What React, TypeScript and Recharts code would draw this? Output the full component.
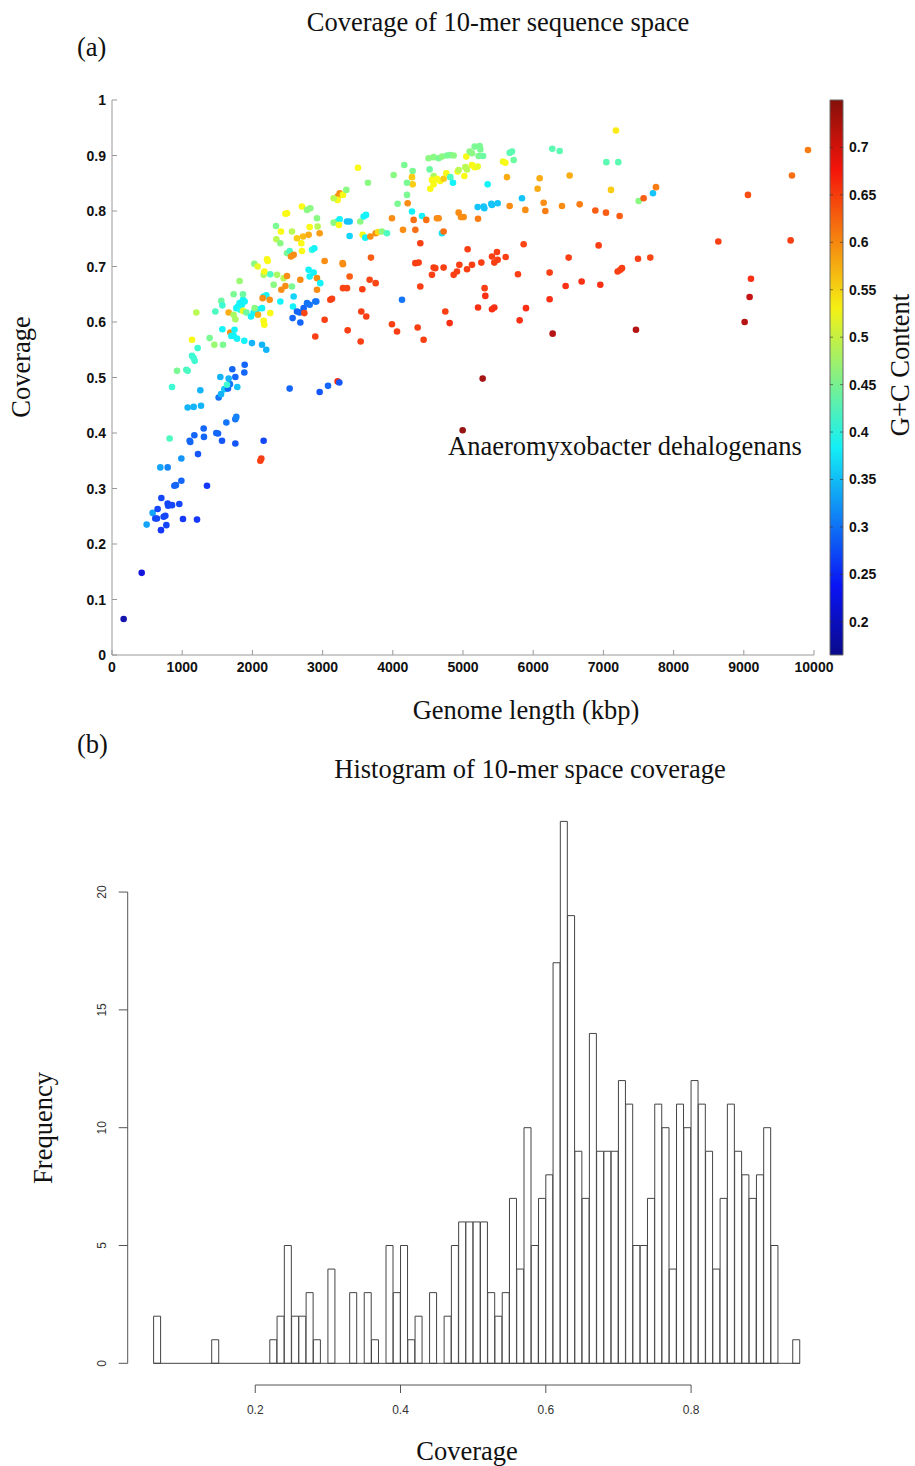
import { ScatterChart, Scatter, XAxis, YAxis, BarChart, Bar, ReferenceLine } from 'recharts';

// ---- panel (a): genome length (kbp), 10-mer coverage, G+C content ----
const genomeLengthKbp = [
  166, 423, 494, 579, 650, 617, 640, 703, 698, 736,
  760, 774, 793, 800, 855, 959, 1011, 1211, 688, 793,
  888, 910, 988, 988, 821, 1106, 1115, 1173, 1225, 1306,
  1310, 1353, 1486, 1510, 1567, 1629, 1757, 1771, 1757, 1078,
  1163, 1268, 1258, 1519, 1553, 1600, 1652, 1680, 1785, 1638,
  855, 2127, 2113, 2160, 2531, 2958, 3077, 3214, 3238, 4995,
  926, 1059, 1078, 1140, 1163, 1178, 1220, 1140, 1201, 1391,
  1472, 1458, 1557, 1572, 1581, 1572, 1662, 1685, 1700, 1733,
  1733, 1757, 1771, 1795, 1818, 1850, 1828, 1866, 1890, 1818,
  1733, 1866, 1866, 1915, 1745, 1781, 1885, 1543, 1662, 1714,
  1757, 1885, 1890,
  1994, 1980, 2018, 2041, 2065, 2032, 2080, 2160, 2198, 2137,
  2160, 2170, 2137, 2198, 2246, 2255, 2146, 2027, 2075, 2160,
  2170, 2208, 2218, 2255, 2303, 2350, 2336, 2341, 2398, 2407,
  2493, 2470, 2493, 2531, 2550, 2588, 2564, 2398, 2412, 2445,
  2493, 2470, 2564, 2578, 2573, 2635, 2673, 2730, 2683, 2740,
  2588, 2683, 2706, 2697, 2721, 2635, 2706, 2778, 2825, 2816,
  2801, 2920, 2929, 2958, 2849, 2882, 2801, 2816, 2873, 2920,
  2920, 2967, 2778, 2816, 2896, 2910, 2896, 3029, 3029, 3110,
  3134, 3214, 3243, 3290, 3214, 3157, 3338, 3214, 3243, 3157,
  3233, 3347, 3385, 3385, 3285, 3290, 3290, 3347, 3385, 3357,
  3504, 3537, 3585, 3618, 3646, 3570, 3608, 3680, 3689, 3566,
  3622, 3551, 3542, 3670, 3756, 3756, 3790, 3846, 3917, 3988,
  4012, 3988, 4060, 4131, 4145, 4069, 4202, 4212, 4273, 4297,
  4321, 4321, 4368, 4392, 4392, 4354, 4439, 4416, 4477, 4558,
  4582, 4605, 4748, 4629, 4653, 4700, 4724, 4164, 4283, 4273,
  4283, 4202, 4525, 4582, 4534, 4558, 4629, 4676, 4724, 4582,
  4510, 4582, 4653,
  4701, 4772, 4819, 4867, 4762, 4819, 4857, 4924, 4938, 5019,
  5057, 5047, 5095, 5128, 5166, 5237, 5247, 5223, 5285, 5128,
  5166, 5209, 5033, 5351, 5570, 5603, 5665, 5698, 5722, 5627,
  5209, 5294, 5304, 5403, 5413, 5494, 4938, 4971, 5009, 5214,
  5665, 5840, 5888, 6063, 6092, 6149, 6173, 6272, 6377, 6410,
  6519, 6662, 6885, 7037, 7231, 7042, 7212, 7179, 7108, 7502,
  7573, 7706, 7749, 9059, 9686, 9914,
  4724, 4867, 4914, 4948, 5057, 5128, 5066, 5261, 5413, 5484,
  5446, 5494, 5608, 5864, 5783, 6234, 6505, 6932, 7203, 7241,
  7265, 7493, 7668, 8637, 9667, 9102, 9083, 9012, 5308, 5318,
  5214, 5413, 5446, 5897, 4810, 5807, 6234, 6462, 6690, 6956,
  6277, 7464, 5280,
];

const coverage = [
  0.065, 0.148, 0.235, 0.256, 0.263, 0.246, 0.246, 0.283, 0.225, 0.249,
  0.251, 0.234, 0.273, 0.269, 0.27, 0.272, 0.245, 0.244, 0.338, 0.338,
  0.305, 0.306, 0.314, 0.354, 0.39, 0.386, 0.384, 0.396, 0.362, 0.408,
  0.393, 0.305, 0.4, 0.399, 0.386, 0.419, 0.425, 0.429, 0.381, 0.446,
  0.447, 0.449, 0.477, 0.464, 0.47, 0.479, 0.48, 0.488, 0.483, 0.487,
  0.483, 0.354, 0.35, 0.386, 0.48, 0.474, 0.485, 0.493, 0.491, 0.405,
  0.512, 0.514, 0.512, 0.539, 0.535, 0.53, 0.553, 0.568, 0.617, 0.571,
  0.619, 0.559, 0.638, 0.63, 0.559, 0.587, 0.617, 0.581, 0.575, 0.575,
  0.613, 0.605, 0.625, 0.628, 0.634, 0.631, 0.622, 0.64, 0.637, 0.674,
  0.65, 0.65, 0.62, 0.617, 0.586, 0.57, 0.566, 0.501, 0.498, 0.515,
  0.501, 0.509, 0.523,
  0.562, 0.61, 0.617, 0.62, 0.623, 0.625, 0.613, 0.646, 0.648, 0.625,
  0.602, 0.595, 0.559, 0.55, 0.64, 0.616, 0.643, 0.705, 0.7, 0.685,
  0.691, 0.713, 0.71, 0.686, 0.667, 0.685, 0.773, 0.749, 0.742, 0.763,
  0.796, 0.795, 0.724, 0.728, 0.718, 0.721, 0.763, 0.637, 0.658, 0.679,
  0.683, 0.665, 0.664, 0.628, 0.607, 0.619, 0.617, 0.625, 0.599, 0.616,
  0.646, 0.676, 0.728, 0.742, 0.754, 0.751, 0.808, 0.802, 0.805, 0.771,
  0.757, 0.787, 0.772, 0.76, 0.73, 0.733, 0.694, 0.682, 0.689, 0.679,
  0.658, 0.67, 0.634, 0.631, 0.637, 0.637, 0.574, 0.71, 0.604, 0.64,
  0.642, 0.826, 0.832, 0.829, 0.82, 0.823, 0.838, 0.781, 0.785, 0.779,
  0.775, 0.781, 0.781, 0.755, 0.706, 0.704, 0.661, 0.661, 0.682, 0.585,
  0.878, 0.781, 0.79, 0.793, 0.851, 0.757, 0.752, 0.754, 0.716, 0.659,
  0.61, 0.619, 0.565, 0.676, 0.67, 0.76, 0.762, 0.763, 0.76, 0.787,
  0.865, 0.596, 0.583, 0.64, 0.766, 0.813, 0.829, 0.814, 0.799, 0.784,
  0.766, 0.706, 0.707, 0.742, 0.664, 0.59, 0.568, 0.791, 0.784, 0.685,
  0.698, 0.697, 0.619, 0.787, 0.787, 0.76, 0.763, 0.883, 0.872, 0.861,
  0.848, 0.851, 0.875, 0.863, 0.84, 0.856, 0.858, 0.854, 0.858, 0.848,
  0.895, 0.897, 0.895,
  0.898, 0.9, 0.901, 0.9, 0.868, 0.861, 0.851, 0.871, 0.874, 0.863,
  0.875, 0.898, 0.907, 0.904, 0.916, 0.917, 0.911, 0.899, 0.899, 0.883,
  0.879, 0.88, 0.879, 0.848, 0.889, 0.887, 0.905, 0.907, 0.892, 0.861,
  0.807, 0.808, 0.805, 0.813, 0.811, 0.814, 0.797, 0.789, 0.789, 0.786,
  0.809, 0.823, 0.802, 0.84, 0.859, 0.815, 0.8, 0.912, 0.908, 0.809,
  0.864, 0.812, 0.801, 0.797, 0.791, 0.888, 0.888, 0.945, 0.838, 0.818,
  0.823, 0.832, 0.843, 0.829, 0.864, 0.91,
  0.698, 0.685, 0.691, 0.703, 0.695, 0.703, 0.731, 0.707, 0.718, 0.726,
  0.707, 0.712, 0.717, 0.74, 0.686, 0.689, 0.716, 0.738, 0.691, 0.694,
  0.697, 0.714, 0.716, 0.745, 0.747, 0.678, 0.645, 0.6, 0.661, 0.647,
  0.626, 0.623, 0.626, 0.625, 0.598, 0.603, 0.641, 0.665, 0.673, 0.667,
  0.579, 0.586, 0.498,
];

const gcContent = [
  0.19, 0.22, 0.33, 0.33, 0.27, 0.27, 0.27, 0.27, 0.26, 0.27,
  0.27, 0.27, 0.27, 0.27, 0.27, 0.27, 0.26, 0.26, 0.33, 0.31,
  0.29, 0.29, 0.29, 0.32, 0.42, 0.29, 0.29, 0.29, 0.28, 0.29,
  0.29, 0.26, 0.29, 0.29, 0.28, 0.3, 0.3, 0.31, 0.28, 0.34,
  0.34, 0.34, 0.34, 0.3, 0.34, 0.35, 0.29, 0.3, 0.35, 0.41,
  0.41, 0.65, 0.65, 0.27, 0.29, 0.28, 0.29, 0.66, 0.28, 0.74,
  0.45, 0.42, 0.42, 0.41, 0.41, 0.41, 0.41, 0.53, 0.49, 0.45,
  0.42, 0.47, 0.44, 0.41, 0.45, 0.38, 0.58, 0.6, 0.38, 0.38,
  0.48, 0.48, 0.38, 0.38, 0.38, 0.38, 0.39, 0.38, 0.38, 0.47,
  0.45, 0.44, 0.52, 0.44, 0.38, 0.38, 0.38, 0.34, 0.34, 0.29,
  0.29, 0.29, 0.29,
  0.34, 0.38, 0.38, 0.38, 0.38, 0.46, 0.58, 0.38, 0.38, 0.38,
  0.53, 0.53, 0.34, 0.34, 0.6, 0.53, 0.6, 0.46, 0.52, 0.48,
  0.53, 0.53, 0.53, 0.42, 0.46, 0.48, 0.45, 0.49, 0.46, 0.53,
  0.53, 0.53, 0.45, 0.42, 0.6, 0.6, 0.49, 0.38, 0.6, 0.49,
  0.6, 0.6, 0.45, 0.38, 0.29, 0.29, 0.29, 0.29, 0.29, 0.645,
  0.36, 0.6, 0.53, 0.53, 0.57, 0.56, 0.53, 0.46, 0.46, 0.53,
  0.58, 0.46, 0.49, 0.59, 0.4, 0.38, 0.38, 0.38, 0.38, 0.6,
  0.6, 0.38, 0.3, 0.3, 0.3, 0.3, 0.65, 0.6, 0.65, 0.65,
  0.65, 0.6, 0.6, 0.53, 0.53, 0.49, 0.46, 0.38, 0.38, 0.46,
  0.53, 0.35, 0.35, 0.36, 0.6, 0.6, 0.645, 0.645, 0.63, 0.65,
  0.53, 0.46, 0.38, 0.38, 0.46, 0.53, 0.38, 0.6, 0.63, 0.65,
  0.65, 0.65, 0.65, 0.645, 0.645, 0.6, 0.55, 0.46, 0.42, 0.6,
  0.46, 0.65, 0.65, 0.3, 0.6, 0.45, 0.45, 0.6, 0.38, 0.62,
  0.62, 0.65, 0.65, 0.65, 0.65, 0.65, 0.65, 0.38, 0.62, 0.65,
  0.65, 0.65, 0.65, 0.6, 0.6, 0.37, 0.62, 0.45, 0.45, 0.56,
  0.56, 0.45, 0.44, 0.48, 0.53, 0.53, 0.53, 0.53, 0.56, 0.53,
  0.46, 0.46, 0.45,
  0.46, 0.45, 0.45, 0.46, 0.53, 0.42, 0.38, 0.53, 0.49, 0.53,
  0.49, 0.53, 0.46, 0.46, 0.45, 0.45, 0.45, 0.45, 0.44, 0.53,
  0.53, 0.52, 0.49, 0.38, 0.52, 0.53, 0.43, 0.43, 0.44, 0.58,
  0.35, 0.35, 0.35, 0.35, 0.35, 0.35, 0.6, 0.6, 0.6, 0.61,
  0.6, 0.35, 0.6, 0.58, 0.58, 0.6, 0.61, 0.43, 0.43, 0.6,
  0.58, 0.61, 0.63, 0.63, 0.63, 0.43, 0.43, 0.54, 0.56, 0.46,
  0.63, 0.35, 0.61, 0.64, 0.62, 0.61,
  0.65, 0.65, 0.65, 0.65, 0.65, 0.65, 0.65, 0.65, 0.65, 0.65,
  0.65, 0.65, 0.65, 0.645, 0.65, 0.65, 0.65, 0.65, 0.65, 0.65,
  0.65, 0.65, 0.645, 0.65, 0.65, 0.66, 0.71, 0.72, 0.65, 0.66,
  0.66, 0.66, 0.66, 0.66, 0.66, 0.66, 0.66, 0.66, 0.66, 0.66,
  0.72, 0.72, 0.73,
];

const kbpTicks = [0, 1000, 2000, 3000, 4000, 5000, 6000, 7000, 8000, 9000, 10000];
const coverageTicks = [0, 0.1, 0.2, 0.3, 0.4, 0.5, 0.6, 0.7, 0.8, 0.9, 1];
const gcTicks = [0.2, 0.25, 0.3, 0.35, 0.4, 0.45, 0.5, 0.55, 0.6, 0.65, 0.7];
const GC_MIN = 0.165;
const GC_MAX = 0.75;

// ---- panel (b): histogram of coverage, bins of width 0.01 ----
const binStart = [
  0.06, 0.07, 0.08, 0.09, 0.1, 0.11, 0.12, 0.13, 0.14, 0.15,
  0.16, 0.17, 0.18, 0.19, 0.2, 0.21, 0.22, 0.23, 0.24, 0.25,
  0.26, 0.27, 0.28, 0.29, 0.3, 0.31, 0.32, 0.33, 0.34, 0.35,
  0.36, 0.37, 0.38, 0.39, 0.4, 0.41, 0.42, 0.43, 0.44, 0.45,
  0.46, 0.47, 0.48, 0.49, 0.5, 0.51, 0.52, 0.53, 0.54, 0.55,
  0.56, 0.57, 0.58, 0.59, 0.6, 0.61, 0.62, 0.63, 0.64, 0.65,
  0.66, 0.67, 0.68, 0.69, 0.7, 0.71, 0.72, 0.73, 0.74, 0.75,
  0.76, 0.77, 0.78, 0.79, 0.8, 0.81, 0.82, 0.83, 0.84, 0.85,
  0.86, 0.87, 0.88, 0.89, 0.9, 0.91, 0.92, 0.93, 0.94,
];
const binCounts = [
  2, 0, 0, 0, 0, 0, 0, 0, 1, 0,
  0, 0, 0, 0, 0, 0, 1, 2, 5, 2,
  2, 3, 1, 0, 4, 0, 0, 3, 0, 3,
  1, 0, 5, 3, 5, 1, 2, 0, 3, 0,
  2, 5, 6, 6, 6, 6, 3, 2, 3, 7,
  4, 10, 5, 7, 8, 17, 23, 19, 9, 7,
  14, 9, 9, 9, 12, 11, 5, 5, 7, 11,
  10, 4, 11, 10, 12, 11, 9, 4, 7, 11,
  9, 8, 7, 8, 10, 5, 0, 0, 1,
];
const histXTicks = [0.2, 0.4, 0.6, 0.8];
const histYTicks = [0, 5, 10, 15, 20];
// R extends the plotting region by 4% on each side
const HX_MIN = 0.0244;
const HX_MAX = 0.9856;
const HY_MIN = -0.92;
const HY_MAX = 23.92;

const SERIF = '"Liberation Serif", "Times New Roman", serif';
const SANS = '"Liberation Sans", Arial, sans-serif';

// matlab "jet", slightly washed out like the scanned figure
function jet(v: number): string {
  const t = Math.min(1, Math.max(0, (v - GC_MIN) / (GC_MAX - GC_MIN)));
  const c = (d: number) => {
    const k = Math.min(1, Math.max(0, 1.5 - Math.abs(4 * t - d)));
    return Math.round(255 * (0.9 * k + 0.08));
  };
  return `rgb(${c(3)},${c(2)},${c(1)})`;
}

const fmt = (v: number) => String(Number(v.toFixed(2)));

const ScatterYTick = ({ x, y, payload }: any) => (
  <g>
    <line x1={x} x2={x + 5} y1={y} y2={y} stroke="#999" />
    <text x={x - 6} y={y + 5} textAnchor="end" fontFamily={SANS} fontWeight="bold" fontSize={14} fill="#111">
      {fmt(payload.value)}
    </text>
  </g>
);

const ScatterXTick = ({ x, y, payload }: any) => (
  <g>
    <line x1={x} x2={x} y1={y} y2={y - 5} stroke="#999" />
    <text x={x} y={y + 17} textAnchor="middle" fontFamily={SANS} fontWeight="bold" fontSize={14} fill="#111">
      {payload.value}
    </text>
  </g>
);

const ColorbarTick = ({ x, y, payload }: any) => (
  <g>
    <line x1={x - 13} x2={x - 10} y1={y} y2={y} stroke="#333" strokeOpacity={0.6} />
    <line x1={x - 3} x2={x} y1={y} y2={y} stroke="#333" strokeOpacity={0.6} />
    <text x={x + 6} y={y + 5} textAnchor="start" fontFamily={SANS} fontWeight="bold" fontSize={14} fill="#111">
      {fmt(payload.value)}
    </text>
  </g>
);

const HistXTick = ({ x, y, payload }: any) => (
  <g>
    <line x1={x} x2={x} y1={y} y2={y + 8} stroke="#555" />
    <text x={x} y={y + 29} textAnchor="middle" fontFamily={SANS} fontSize={12} fill="#333">
      {payload.value}
    </text>
  </g>
);

const HistYTick = ({ x, y, payload }: any) => (
  <g>
    <line x1={x - 9} x2={x} y1={y} y2={y} stroke="#555" />
    <text
      x={x - 22}
      y={y}
      transform={`rotate(-90 ${x - 22} ${y})`}
      textAnchor="middle"
      fontFamily={SANS}
      fontSize={12}
      fill="#333"
    >
      {payload.value}
    </text>
  </g>
);

const renderDot = (props: any) => (
  <circle cx={props.cx} cy={props.cy} r={3.3} fill={jet(props.payload.gc)} />
);

export default function App() {
  const points = genomeLengthKbp.map((kbp, i) => ({ x: kbp, y: coverage[i], gc: gcContent[i] }));
  const histData = binStart.map((b, i) => ({ bin: b, count: binCounts[i] }));
  const colorbarData = [{ name: 'gc', range: [GC_MIN, GC_MAX] }];

  return (
    <div style={{ position: 'absolute', left: 0, top: 0, width: 915, height: 1466, background: '#fff' }}>
      <div style={{ position: 'absolute', left: 0, top: 0 }}>
        <ScatterChart width={915} height={740} margin={{ top: 100, right: 101, bottom: 45, left: 52 }}>
          <XAxis
            type="number"
            dataKey="x"
            domain={[0, 10000]}
            ticks={kbpTicks}
            interval={0}
            height={40}
            axisLine={{ stroke: '#999' }}
            tickLine={false}
            tickSize={0}
            tickMargin={0}
            tick={<ScatterXTick />}
          />
          <YAxis
            type="number"
            dataKey="y"
            domain={[0, 1]}
            ticks={coverageTicks}
            interval={0}
            width={60}
            axisLine={{ stroke: '#999' }}
            tickLine={false}
            tickSize={0}
            tickMargin={0}
            tick={<ScatterYTick />}
          />
          <Scatter data={points} shape={renderDot} isAnimationActive={false} />
        </ScatterChart>
      </div>

      <div style={{ position: 'absolute', left: 790, top: 0 }}>
        <BarChart width={125} height={740} data={colorbarData} margin={{ top: 100, right: 12, bottom: 85, left: 40 }} barCategoryGap={0}>
          <defs>
            <linearGradient id="jetGradient" x1="0" y1="1" x2="0" y2="0">
              <stop offset="0" stopColor="#0a0a8a" />
              <stop offset="0.125" stopColor="#0a14f5" />
              <stop offset="0.375" stopColor="#14f0f5" />
              <stop offset="0.625" stopColor="#f5f014" />
              <stop offset="0.875" stopColor="#f5140a" />
              <stop offset="1" stopColor="#85100a" />
            </linearGradient>
          </defs>
          <XAxis dataKey="name" hide />
          <YAxis
            orientation="right"
            type="number"
            domain={[GC_MIN, GC_MAX]}
            ticks={gcTicks}
            interval={0}
            width={60}
            axisLine={false}
            tickLine={false}
            tickSize={0}
            tickMargin={0}
            tick={<ColorbarTick />}
          />
          <Bar dataKey="range" fill="url(#jetGradient)" stroke="#666" strokeWidth={1} isAnimationActive={false} />
        </BarChart>
      </div>

      <div style={{ position: 'absolute', left: 0, top: 760 }}>
        <BarChart
          width={915}
          height={706}
          data={histData}
          margin={{ top: 39.7, right: 89.1, bottom: 41, left: 67.7 }}
          barCategoryGap={0}
          barGap={0}
        >
          <XAxis
            xAxisId="cov"
            dataKey="bin"
            type="number"
            domain={[HX_MIN, HX_MAX]}
            ticks={histXTicks}
            interval={0}
            height={40}
            axisLine={false}
            tickLine={false}
            tickSize={0}
            tickMargin={0}
            tick={<HistXTick />}
          />
          <XAxis xAxisId="bins" dataKey="bin" type="category" hide height={0} padding={{ left: 25.9, right: 25.9 }} />
          <YAxis
            type="number"
            domain={[HY_MIN, HY_MAX]}
            ticks={histYTicks}
            interval={0}
            width={60}
            axisLine={false}
            tickLine={false}
            tickSize={0}
            tickMargin={0}
            tick={<HistYTick />}
          />
          <Bar xAxisId="bins" dataKey="count" fill="#fff" stroke="#444" strokeWidth={1} isAnimationActive={false} />
          <ReferenceLine
            xAxisId="cov"
            segment={[{ x: binStart[0], y: 0 }, { x: binStart[binStart.length - 1] + 0.01, y: 0 }]}
            stroke="#444"
            ifOverflow="visible"
          />
          <ReferenceLine
            xAxisId="cov"
            segment={[{ x: histXTicks[0], y: HY_MIN }, { x: histXTicks[histXTicks.length - 1], y: HY_MIN }]}
            stroke="#555"
            ifOverflow="visible"
          />
          <ReferenceLine
            xAxisId="cov"
            segment={[{ x: HX_MIN, y: histYTicks[0] }, { x: HX_MIN, y: histYTicks[histYTicks.length - 1] }]}
            stroke="#555"
            ifOverflow="visible"
          />
        </BarChart>
      </div>

      <svg width={915} height={1466} style={{ position: 'absolute', left: 0, top: 0, pointerEvents: 'none' }}>
        <g fontFamily={SERIF} fontSize={26.5} fill="#111">
          <text x={498} y={31} textAnchor="middle">Coverage of 10-mer sequence space</text>
          <text x={77} y={56}>(a)</text>
          <text x={30} y={367} textAnchor="middle" transform="rotate(-90 30 367)">Coverage</text>
          <text x={526} y={719} textAnchor="middle">Genome length (kbp)</text>
          <text x={909} y={365} textAnchor="middle" transform="rotate(-90 909 365)">G+C Content</text>
          <text x={448} y={455}>Anaeromyxobacter dehalogenans</text>
          <text x={77} y={753}>(b)</text>
          <text x={530} y={778} textAnchor="middle">Histogram of 10-mer space coverage</text>
          <text x={52} y={1128} textAnchor="middle" transform="rotate(-90 52 1128)">Frequency</text>
          <text x={467} y={1460} textAnchor="middle">Coverage</text>
        </g>
      </svg>
    </div>
  );
}
